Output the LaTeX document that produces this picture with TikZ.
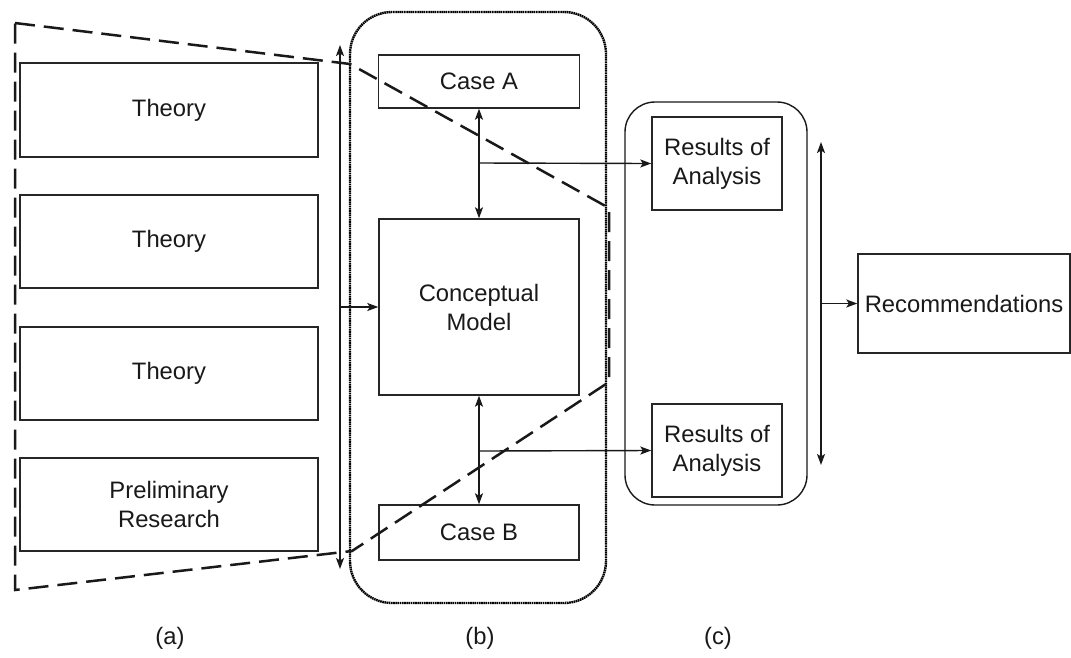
\documentclass[tikz,border=0pt]{standalone}
\usepackage{fontspec}
\setmainfont{Liberation Sans}
\usetikzlibrary{arrows.meta}
\begin{document}
\begin{tikzpicture}[x=1pt,y=-1pt,
  every node/.style={font=\fontsize{23.8}{29}\selectfont, text=black!90},
  box/.style={draw=black!85, line width=1.4pt, fill=white, inner sep=0pt, align=center},
  conn/.style={line width=1.4pt, draw=black!90, -{Stealth[length=11pt,width=8pt,inset=2.5pt]}},
  dconn/.style={line width=1.4pt, draw=black!90, {Stealth[length=11pt,width=8pt,inset=2.5pt]}-{Stealth[length=11pt,width=8pt,inset=2.5pt]}},
  outline/.style={line width=2.5pt, draw=black!90, dash pattern=on 20pt off 9pt},
  lab/.style={inner sep=0pt}]
\useasboundingbox (0,0) rectangle (1071,657);
% group containers
\draw[line width=2.4pt, draw=black, dash pattern=on 1.6pt off 0.6pt, rounded corners=42pt] (350,12) rectangle (606,603);
\draw[line width=1.4pt, draw=black!90, rounded corners=30pt] (625,102) rectangle (807,505);
% left column
\node[box, minimum width=298pt, minimum height=94pt] (t1) at (169,110) {Theory};
\node[box, minimum width=298pt, minimum height=93pt] (t2) at (169,241.5) {Theory};
\node[box, minimum width=298pt, minimum height=93pt] (t3) at (169,373.5) {Theory};
\node[box, minimum width=298pt, minimum height=93pt] (pr) at (169,504.5) {Preliminary\\Research};
% middle column
\node[box, minimum width=201pt, minimum height=53pt] (ca) at (479,81.5) {Case A};
\node[box, minimum width=200pt, minimum height=176pt] (cm) at (479,307) {Conceptual\\Model};
\node[box, minimum width=200pt, minimum height=55pt] (cb) at (479,532.5) {Case B};
% right
\node[box, minimum width=130pt, minimum height=93pt] (r1) at (717,163.5) {Results of\\Analysis};
\node[box, minimum width=130pt, minimum height=93pt] (r2) at (717,450.5) {Results of\\Analysis};
\node[box, minimum width=212pt, minimum height=99pt] (rec) at (964,303.5) {Recommendations};
% coordinates
\coordinate (la1) at (340,45);
\coordinate (la2) at (340,569);
\coordinate (lam) at (340,307);
\coordinate (b1) at (479,163);
\coordinate (b2) at (479,451);
\coordinate (ra1) at (821,142);
\coordinate (ra2) at (821,465);
\coordinate (ram) at (821,303.5);
% connectors
\draw[dconn] (la1) -- (la2);
\draw[conn] (lam) -- (cm.west);
\draw[dconn] (ca.south) -- (cm.north);
\draw[conn] (b1) -- (r1.west);
\draw[dconn] (cm.south) -- (cb.north);
\draw[conn] (b2) -- (r2.west);
\draw[dconn] (ra1) -- (ra2);
\draw[conn] (ram) -- (rec.west);
% dashed outline
\draw[outline] (15,23) -- (350,64) -- (609,208) -- (609,382) -- (352,551) -- (15,590) -- cycle;
% labels
\node[lab] (la) at (170,638) {(a)};
\node[lab] (lb) at (480,638) {(b)};
\node[lab] (lc) at (718,638) {(c)};
\end{tikzpicture}
\end{document}
